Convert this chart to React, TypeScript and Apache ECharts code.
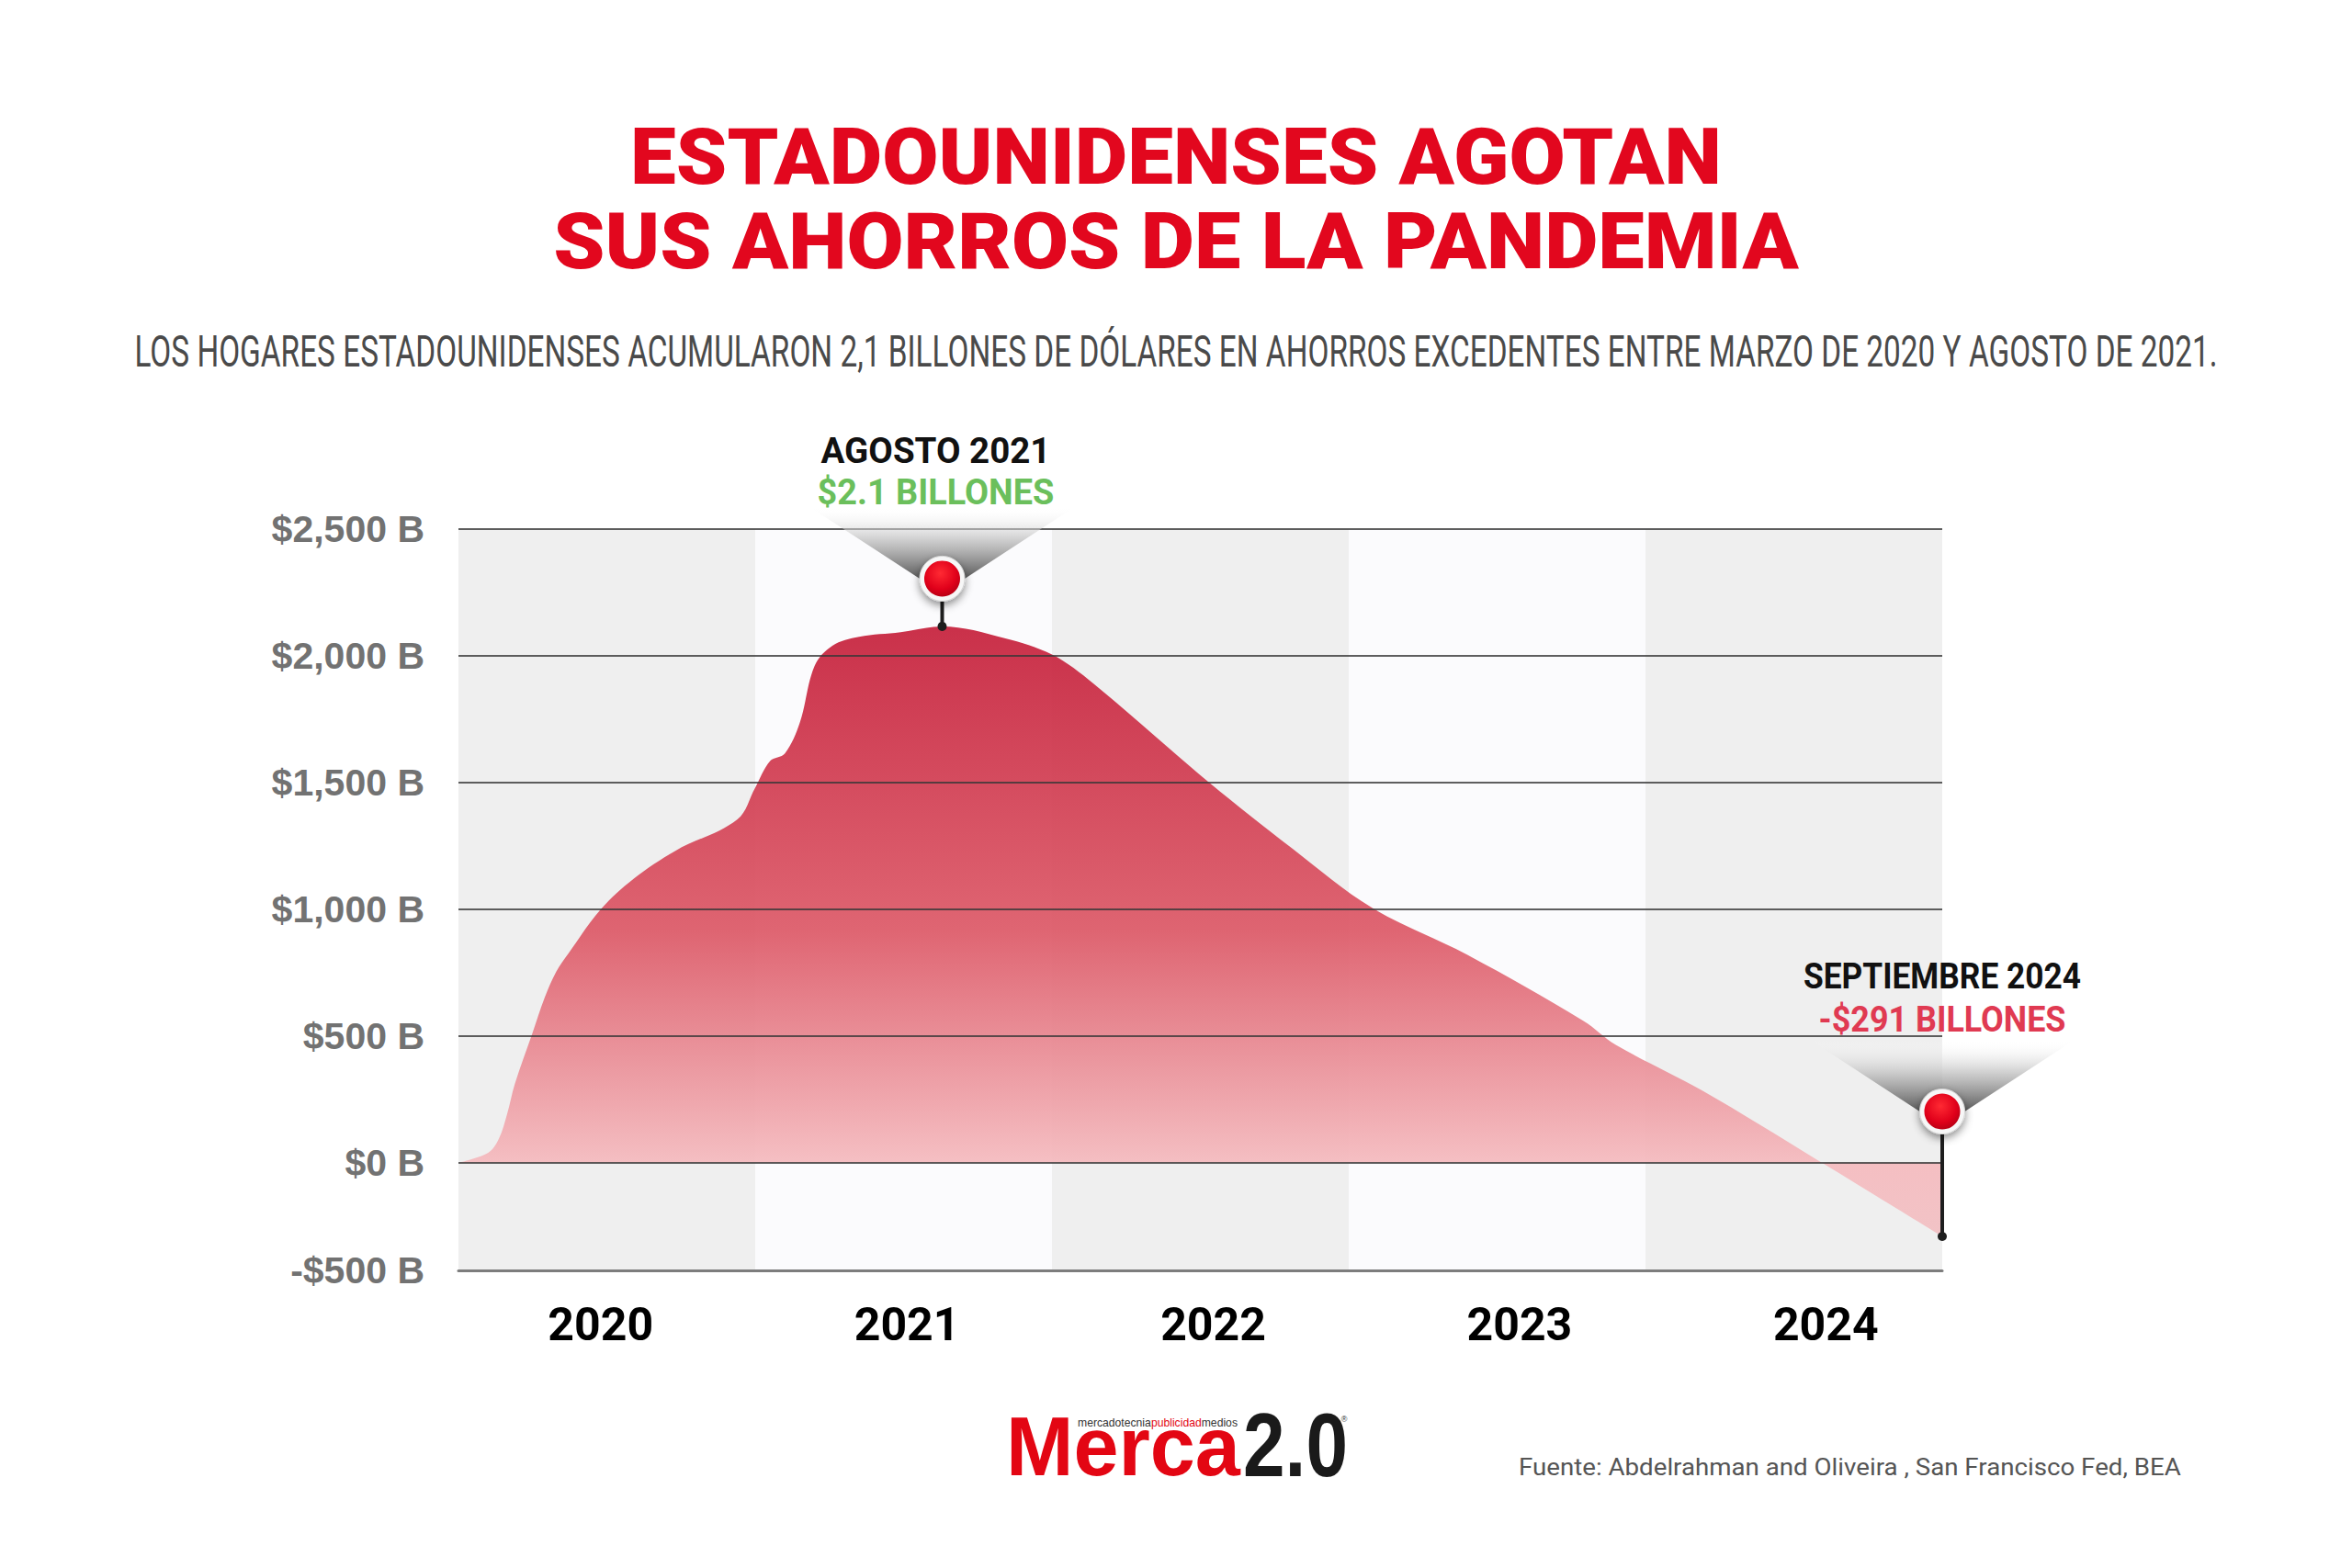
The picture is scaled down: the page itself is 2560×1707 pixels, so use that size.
import React, { useEffect, useRef } from "react";
import * as echarts from "echarts";

// ---------- texts ----------
const TITLE_LINES = ["ESTADOUNIDENSES AGOTAN", "SUS AHORROS DE LA PANDEMIA"];
const SUBTITLE =
  "LOS HOGARES ESTADOUNIDENSES ACUMULARON 2,1 BILLONES DE DÓLARES EN AHORROS EXCEDENTES ENTRE MARZO DE 2020 Y AGOSTO DE 2021.";
const SOURCE = "Fuente: Abdelrahman and Oliveira , San Francisco Fed, BEA";

// ---------- axes ----------
const years = ["2020", "2021", "2022", "2023", "2024"];
const yTickValues = [-500, 0, 500, 1000, 1500, 2000, 2500];
const yTickLabels = ["-$500 B", "$0 B", "$500 B", "$1,000 B", "$1,500 B", "$2,000 B", "$2,500 B"];

// ---------- series: excess savings (billions USD) on the chart's timeline ----------
const savingsTime = [
  2020.0, 2020.1, 2020.136, 2020.164, 2020.19, 2020.25, 2020.29, 2020.33, 2020.37, 2020.48,
  2020.59, 2020.73, 2020.94, 2021.0, 2021.05, 2021.1, 2021.15, 2021.2, 2021.26,
  2021.35, 2021.49, 2021.63, 2021.84, 2022.0, 2022.14, 2022.53, 2022.81, 2023.08,
  2023.4, 2023.79, 2023.9, 2024.19, 2024.58, 2025.0,
];
const savingsValue = [
  0, 39, 94, 192, 311, 514, 650, 755, 825, 1000,
  1120, 1230, 1355, 1480, 1585, 1615, 1735, 1960, 2040,
  2075, 2093, 2116, 2070, 2005, 1890, 1500, 1240, 1005,
  820, 560, 465, 285, 10, -291,
];

// ---------- annotations ----------
const annotationTime = [2021.63, 2025.0];
const annotationValue = [2116, -291];
const annotationTitle = ["AGOSTO 2021", "SEPTIEMBRE 2024"];
const annotationLabel = ["$2.1 BILLONES", "-$291 BILLONES"];
const annotationLabelColor = ["#6bbf5c", "#e03a52"];

const Y_FLOOR = -425;

function measure(text: string, font: string): number {
  const c = document.createElement("canvas").getContext("2d")!;
  c.font = font;
  return c.measureText(text).width;
}

function fitText(
  text: string,
  x: number,
  y: number,
  targetWidth: number,
  size: number,
  weight: string | number,
  family: string,
  fill: string,
  align: "left" | "center" | "right" = "center",
  z = 100
) {
  const w = measure(text, `${weight} ${size}px ${family}`);
  return {
    type: "text",
    x,
    y,
    scaleX: targetWidth / w,
    z,
    silent: true,
    style: {
      text,
      fill,
      fontSize: size,
      fontWeight: weight,
      fontFamily: family,
      align,
      textAlign: align,
      verticalAlign: "middle",
      textVerticalAlign: "middle",
    },
  };
}

export default function App() {
  const ref = useRef<HTMLDivElement>(null);

  useEffect(() => {
    const el = ref.current!;
    const chart = echarts.init(el, null, { renderer: "svg" });
    const data = savingsTime.map((t, i) => [t, savingsValue[i]]);

    chart.setOption({
      animation: false,
      backgroundColor: "#ffffff",
      grid: [
        { left: 499, top: 576, width: 1615, height: 807 },
        { left: 487, top: 1380, width: 1667, height: 10 },
      ],
      xAxis: [
        {
          type: "value",
          gridIndex: 0,
          min: 2020,
          max: 2025,
          interval: 1,
          axisLine: { show: true, onZero: false, lineStyle: { color: "#7d7d7d", width: 3 } },
          axisTick: { show: false },
          axisLabel: { show: false },
          splitLine: { show: false },
          splitArea: { show: true, areaStyle: { color: ["#efefef", "#fbfbfd"] } },
        },
        {
          type: "category",
          gridIndex: 1,
          data: years,
          boundaryGap: true,
          axisLine: { show: false },
          axisTick: { show: false },
          splitLine: { show: false },
          axisLabel: {
            margin: 52,
            verticalAlign: "middle",
            fontFamily: "Roboto",
            fontWeight: "bold",
            fontSize: 50,
            color: "#000000",
          },
        },
      ],
      yAxis: [
        {
          type: "value",
          gridIndex: 0,
          min: Y_FLOOR,
          max: 2500,
          axisLine: { show: false },
          axisTick: { show: false },
          splitLine: { show: false },
          axisLabel: {
            customValues: yTickValues.map((v) => Math.max(v, Y_FLOOR)),
            formatter: (v: number) =>
              v <= Y_FLOOR ? yTickLabels[0] : yTickLabels[yTickValues.indexOf(v)] ?? "",
            margin: 37,
            fontFamily: "Liberation Sans",
            fontWeight: "bold",
            fontSize: 41,
            color: "#727272",
          },
        },
        { type: "value", gridIndex: 1, show: false },
      ],
      series: [
        {
          type: "line",
          xAxisIndex: 0,
          yAxisIndex: 0,
          data,
          smooth: 0.35,
          symbol: "none",
          lineStyle: { width: 0 },
          areaStyle: {
            opacity: 0.93,
            color: new echarts.graphic.LinearGradient(0, 0, 0, 1, [
              { offset: 0, color: "#c6213c" },
              { offset: 0.5, color: "#dd5a68" },
              { offset: 0.88, color: "#f5bbbf" },
              { offset: 1, color: "#f2c0c3" },
            ]),
          },
          markLine: {
            silent: true,
            symbol: ["none", "none"],
            label: { show: false },
            lineStyle: { color: "rgba(55,55,55,0.8)", width: 2, type: "solid" },
            data: yTickValues.filter((v) => v >= 0).map((v) => ({ yAxis: v })),
          },
          z: 2,
        },
      ],
    });

    // ---------- overlay graphics ----------
    const gfx: any[] = [];

    // title & subtitle
    gfx.push(fitText(TITLE_LINES[0], 1280, 170, 1188, 86, 900, "Roboto", "#e2071e"));
    gfx.push(fitText(TITLE_LINES[1], 1280, 262, 1355, 86, 900, "Roboto", "#e2071e"));
    gfx.push(fitText(SUBTITLE, 1280, 383, 2266, 48, "normal", "Roboto", "#4a4a4a"));

    // pins
    const rises = [52, 136];
    const titleDy = [-139, -147];
    const labelDy = [-94, -100];
    const textDx = [-7, 0];
    const titleW = [250, 302];
    const labelW = [258, 269];
    annotationTime.forEach((t, i) => {
      const [px, py] = chart.convertToPixel({ xAxisIndex: 0, yAxisIndex: 0 }, [t, annotationValue[i]]) as number[];
      const by = py - rises[i];
      gfx.push({
        type: "polygon",
        silent: true,
        z: 50,
        shape: { points: [[px - 144, by - 78], [px + 144, by - 78], [px, by + 16]] },
        style: {
          fill: new echarts.graphic.LinearGradient(0, 0, 0, 1, [
            { offset: 0, color: "rgba(255,255,255,0)" },
            { offset: 0.35, color: "rgba(200,200,200,0.75)" },
            { offset: 1, color: "rgba(35,35,35,1)" },
          ]),
        },
      });
      gfx.push({
        type: "line",
        silent: true,
        z: 51,
        shape: { x1: px, y1: by + 20, x2: px, y2: py },
        style: { stroke: "#1e1e1e", lineWidth: 4 },
      });
      gfx.push({
        type: "circle",
        silent: true,
        z: 51,
        shape: { cx: px, cy: py, r: 5 },
        style: { fill: "#1e1e1e" },
      });
      gfx.push({
        type: "circle",
        silent: true,
        z: 52,
        shape: { cx: px, cy: by, r: 24.5 },
        style: {
          fill: "#f7f7f7",
          stroke: "#d5d5d5",
          lineWidth: 1,
          shadowBlur: 10,
          shadowColor: "rgba(0,0,0,0.45)",
          shadowOffsetY: 4,
        },
      });
      gfx.push({
        type: "circle",
        silent: true,
        z: 53,
        shape: { cx: px, cy: by, r: 19.5 },
        style: {
          fill: new echarts.graphic.RadialGradient(0.45, 0.35, 0.75, [
            { offset: 0, color: "#ff2a33" },
            { offset: 0.6, color: "#e0001a" },
            { offset: 1, color: "#a80012" },
          ]),
        },
      });
      gfx.push(fitText(annotationTitle[i], px + textDx[i], by + titleDy[i], titleW[i], 38, "bold", "Roboto", "#111111"));
      gfx.push(fitText(annotationLabel[i], px + textDx[i], by + labelDy[i], labelW[i], 38, "bold", "Roboto", annotationLabelColor[i]));
    });

    // logo
    gfx.push(fitText("Merca", 1095, 1575, 255, 91, "bold", "Liberation Sans", "#e30613", "left"));
    gfx.push(fitText("2.0", 1353, 1573, 114, 98, "bold", "Liberation Sans", "#1a1a1a", "left"));
    const tagParts = ["mercadotecnia", "publicidad", "medios"];
    const tagColors = ["#333333", "#e30613", "#333333"];
    const tagFont = "normal 12px Liberation Sans";
    const tagWidths = tagParts.map((p) => measure(p, tagFont));
    const tagTotal = tagWidths.reduce((a, b) => a + b, 0);
    const tagScale = 174 / tagTotal;
    let cx = 1173;
    tagParts.forEach((p, i) => {
      gfx.push({
        type: "text",
        x: cx,
        y: 1549,
        scaleX: tagScale,
        z: 100,
        silent: true,
        style: {
          text: p,
          fill: tagColors[i],
          fontSize: 12,
          fontFamily: "Liberation Sans",
          align: "left",
          textAlign: "left",
          verticalAlign: "middle",
          textVerticalAlign: "middle",
        },
      });
      cx += tagWidths[i] * tagScale;
    });
    gfx.push({
      type: "text",
      x: 1463,
      y: 1545,
      z: 100,
      silent: true,
      style: {
        text: "®",
        fill: "#333333",
        fontSize: 9,
        fontFamily: "Liberation Sans",
        align: "center",
        textAlign: "center",
        verticalAlign: "middle",
        textVerticalAlign: "middle",
      },
    });

    // source
    gfx.push(fitText(SOURCE, 1653, 1597, 721, 26, "normal", "Roboto", "#555555", "left"));

    chart.setOption({ graphic: gfx });

    return () => chart.dispose();
  }, []);

  return (
    <div
      ref={ref}
      style={{
        position: "absolute",
        left: 0,
        top: 0,
        width: 2560,
        height: 1707,
        background: "#ffffff",
      }}
    />
  );
}
